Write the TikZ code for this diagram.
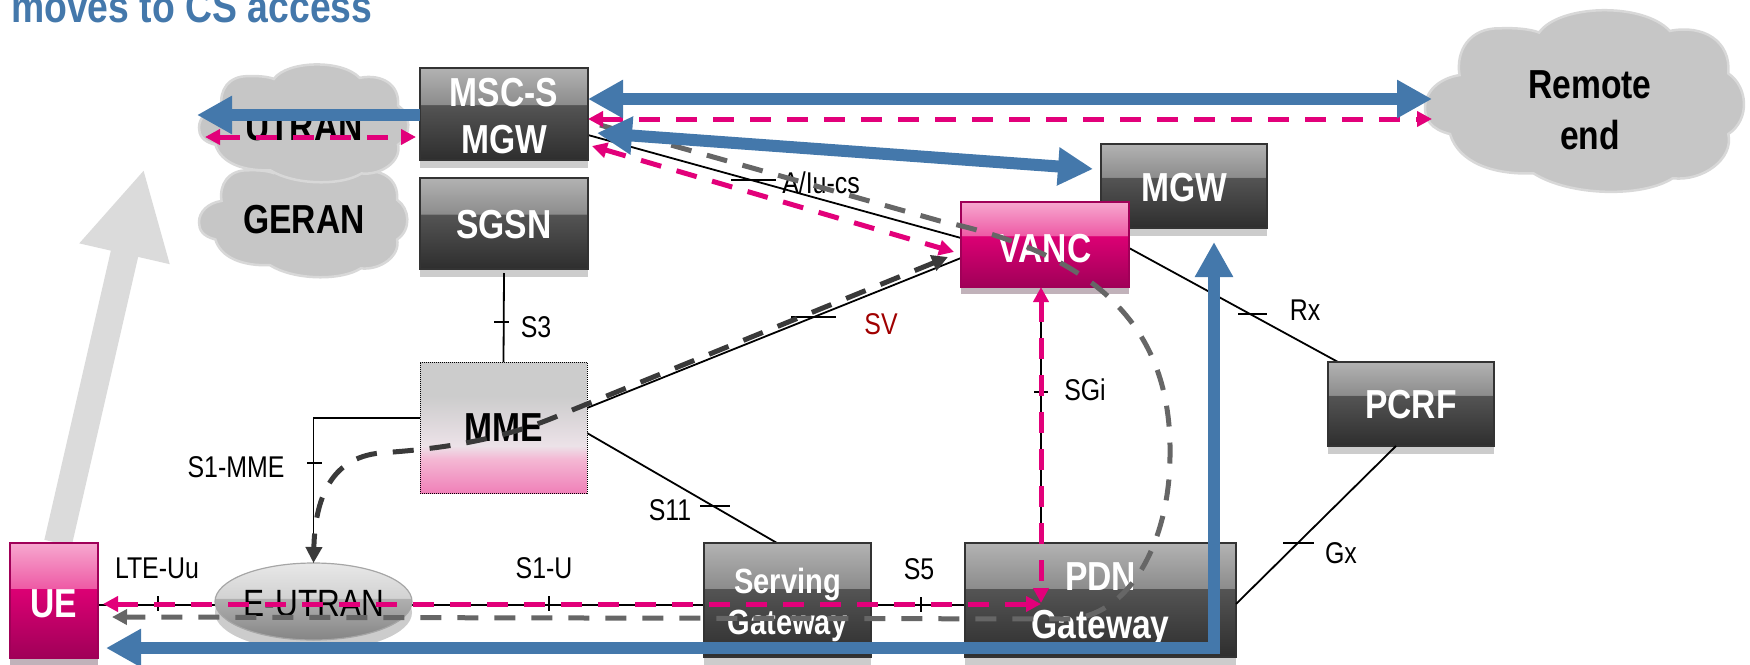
\documentclass[tikz,border=0pt]{standalone}
\usepackage{fontspec}
\setmainfont{Liberation Sans}[FakeStretch=0.83]
\usetikzlibrary{arrows.meta,calc,shapes.geometric,shadows,backgrounds}
\definecolor{tblue}{HTML}{4478AB}
\definecolor{tmag}{HTML}{E2007A}
\definecolor{tgrey}{HTML}{666666}
\definecolor{tdark}{HTML}{3A3A3A}
\definecolor{tred}{HTML}{A00000}
\definecolor{cloudc}{HTML}{C6C6C6}
\definecolor{cloude}{HTML}{D8D8D8}
\pgfdeclareverticalshading{darkshade}{100bp}{color(0bp)=(black!82);color(25bp)=(black!82);color(55bp)=(black!67);color(55.2bp)=(black!45);color(75bp)=(black!30);color(100bp)=(black!30)}
\definecolor{p1}{HTML}{A00058}
\definecolor{p2}{HTML}{DC0074}
\definecolor{p3}{HTML}{EE5AA5}
\definecolor{p4}{HTML}{F7A8CF}
\pgfdeclareverticalshading{pinkshade}{100bp}{color(0bp)=(p1);color(25bp)=(p1);color(55bp)=(p2);color(55.2bp)=(p3);color(75bp)=(p4);color(100bp)=(p4)}
\definecolor{m1}{HTML}{F080B8}
\definecolor{m2}{HTML}{F4B8D4}
\definecolor{m3}{HTML}{ECE2E8}
\definecolor{m4}{HTML}{CCCCCC}
\pgfdeclareverticalshading{mmeshade}{100bp}{color(0bp)=(m1);color(25bp)=(m1);color(38bp)=(m2);color(43bp)=(m3);color(62bp)=(m4);color(100bp)=(m4)}
\definecolor{e1}{HTML}{858585}
\definecolor{e2}{HTML}{B0B0B0}
\definecolor{e3}{HTML}{D2D2D2}
\definecolor{e4}{HTML}{E8E8E8}
\pgfdeclareverticalshading{ellshade}{100bp}{color(0bp)=(e1);color(25bp)=(e1);color(52bp)=(e2);color(52.2bp)=(e3);color(75bp)=(e4);color(100bp)=(e4)}
\newcommand{\lift}[1]{\rule{0pt}{#1pt}}
\newcommand{\cloudat}[5]{%
  \node[rectangle,inner sep=0pt,outer sep=0pt,minimum width=#4pt,minimum height=#5pt] (#1) at (#2,#3) {};
  \begin{scope}[shift={(#1.north west)},x=#4/575*1pt,y=-#5/565*1pt]
  \fill[cloudc,draw=cloude,line width=2.5pt]
    (0,305) .. controls (0,255) and (25,215) .. (62,205)
    .. controls (55,130) and (80,60) .. (135,62)
    .. controls (165,60) and (190,65) .. (205,75)
    .. controls (240,-10) and (390,-20) .. (440,70)
    .. controls (500,50) and (550,100) .. (545,200)
    .. controls (580,240) and (585,340) .. (545,385)
    .. controls (555,460) and (500,530) .. (445,520)
    .. controls (390,580) and (260,575) .. (195,505)
    .. controls (120,510) and (60,470) .. (45,385)
    .. controls (10,370) and (0,340) .. (0,305) -- cycle;
  \end{scope}}
\tikzset{
  boxbase/.style={rectangle,inner sep=0pt,outer sep=0pt,align=center,text=white,
    font=\fontsize{40.5}{47}\selectfont\bfseries},
  darkbox/.style={boxbase,shading=darkshade,draw=black!80,line width=1.2pt,
    general shadow={fill=black!20,shadow yshift=-7.5pt}},
  pinkbox/.style={boxbase,shading=pinkshade,draw=p1,line width=1.2pt,
    general shadow={fill=p1!30!black!30,shadow yshift=-7pt}},
  cloudtext/.style={inner sep=0pt,align=center,text=black,font=\fontsize{40.5}{51}\selectfont\bfseries},
  small/.style={inner sep=0pt,font=\fontsize{30}{31}\selectfont},
  wire/.style={draw=black,line width=1.8pt},
  tickm/.style={draw=black,line width=1.8pt},
  blueline/.style={draw=tblue,line width=12pt,{Triangle[length=35pt,width=36pt]}-{Triangle[length=35pt,width=36pt]}},
  blueone/.style={draw=tblue,line width=12pt,-{Triangle[length=35pt,width=36pt]}},
  magdash/.style={draw=tmag,line width=5pt,dash pattern=on 21pt off 16pt,
    {Triangle[length=15pt,width=15pt]}-{Triangle[length=15pt,width=15pt]}},
  greydash/.style={draw=tgrey,line width=5pt,dash pattern=on 21pt off 16pt,-{Triangle[length=15pt,width=15pt]}},
  darkdash/.style={draw=tdark,line width=5pt,dash pattern=on 21pt off 16pt,
    {Triangle[length=16pt,width=16pt]}-{Triangle[length=16pt,width=16pt]}},
}
\newcommand{\tickh}[3]{\draw[tickm] ($(#1,#3)$) -- ($(#2,#3)$);}
\newcommand{\tickv}[3]{\draw[tickm] ($(#1,#2)$) -- ($(#1,#3)$);}
\begin{document}
\begin{tikzpicture}[x=1pt,y=-1pt]
\clip (0,0) rectangle (1750,664);
\node[inner sep=0pt,anchor=base west,text=tblue,font=\fontsize{45}{47}\selectfont\bfseries] (title) at (11,22) {moves to CS access};
% clouds
\cloudat{geran}{303.5}{217.5}{209}{121}
\cloudat{utran}{304}{123}{210}{120}
\cloudat{remote}{1585}{100.5}{320}{185}
\node[cloudtext] (utrant) at (304,127) {UTRAN};
\node[cloudtext] (gerant) at (304,220) {GERAN};
\node[cloudtext] (remotet) at (1590,110) {Remote\\end};
% boxes
\node[darkbox,minimum width=168pt,minimum height=92pt] (msc) at (504,114) {\lift{32}MSC-S\\MGW};
\node[darkbox,minimum width=168pt,minimum height=91pt] (sgsn) at (504,223.5) {\lift{30}SGSN};
\node[boxbase,text=black,shading=mmeshade,draw=black,line width=1pt,densely dotted,minimum width=167pt,minimum height=131pt] (mme) at (503.5,427.5) {MME};
\node[darkbox,minimum width=166pt,minimum height=84pt] (mgw) at (1184,186) {\lift{32}MGW};
\node[pinkbox,minimum width=168pt,minimum height=85pt] (vanc) at (1045,244.5) {\lift{37}VANC};
\node[darkbox,minimum width=166pt,minimum height=84pt] (pcrf) at (1411,404) {\lift{30}PCRF};
\node[darkbox,minimum width=167pt,minimum height=114pt,font=\fontsize{35}{41}\selectfont\bfseries] (sgw) at (787.5,600) {\lift{36}Serving\\Gateway};
\node[darkbox,minimum width=271pt,minimum height=114pt,font=\fontsize{40.5}{48}\selectfont\bfseries] (pdn) at (1100.5,600) {\lift{38}PDN\\Gateway};
\node[pinkbox,minimum width=88pt,minimum height=115pt] (ue) at (54,600.5) {\lift{34}UE};
\node[ellipse,inner sep=0pt,outer sep=0pt,shading=ellshade,draw=black!35,line width=1.2pt,minimum width=197pt,minimum height=77pt,
  general shadow={fill=black!20,shadow yshift=-11pt}] (eutran) at (313.5,601.5) {};
\node[inner sep=0pt,font=\fontsize{38}{40}\selectfont] (eutrant) at (314,604) {E-UTRAN};
% labels
\node[small] (lmme) at (236,467) {S1-MME};
\node[small] (luu) at (157,568) {LTE-Uu};
\node[small] (ls1u) at (544,568) {S1-U};
\node[small] (ls11) at (670,510) {S11};
\node[small] (ls3) at (536,327) {S3};
\node[small] (ls5) at (919,569) {S5};
\node[small] (lsgi) at (1085,390) {SGi};
\node[small] (lgx) at (1341,553) {Gx};
\node[small] (lrx) at (1305,310) {Rx};
\node[small,text=tred] (lsv) at (881,324) {SV};
\node[small] (laiu) at (821,183) {A/Iu-cs};
% under the boxes
\begin{pgfonlayer}{background}
\draw[draw=black!14,line width=28pt,-{Triangle[length=87pt,width=86pt]}] ($(ue.north)+(4,0)$) -- ($(utran.south west)+(-55,-14)$);
\draw[wire] ($(msc.east)+(0,21)$) -- ($(vanc.west)+(0,-6.5)$);
\draw[wire] ($(vanc.east)+(0,3.5)$) -- ($(pcrf.north west)+(10,0)$);
\draw[wire] ($(mme.east)+(0,-19.5)$) -- ($(vanc.west)+(0,13.5)$);
\draw[wire] ($(mme.west)+(0,-9.5)$) -| (eutran.north);
\draw[wire] ($(mme.east)+(0,5.5)$) -- ($(sgw.north)+(-10.5,0)$);
\draw[wire] ($(ue.east)+(0,4.5)$) -- ($(pdn.west)+(0,5)$);
\draw[wire] ($(vanc.south)+(-4,0)$) -- ($(pdn.north)+(-59.5,0)$);
\tickv{158}{596}{611}
\tickv{549}{596}{611}
\tickv{921}{597}{612}
\tickh{307}{322}{463}
\tickh{494}{509}{322}
\tickh{700}{730}{506}
\tickh{731}{776}{180}
\tickh{791}{836}{317}
\tickh{1238}{1267}{314}
\tickh{1034}{1048}{392}
\tickh{1283}{1314}{543}
\end{pgfonlayer}
\draw[wire] ($(sgsn.south)+(0,4)$) -- (mme.north);
\draw[wire] ($(pcrf.south)+(-15,0)$) -- ($(pdn.east)+(0,4)$);
% arrows over everything
\draw[greydash] ($(msc.east)+(12,11)$) -- (940,221) .. controls (1100,255) and (1172,330) .. (1170,455)
   .. controls (1170,540) and (1130,619) .. (1065,619) -- ($(ue.east)+(14,16.5)$);
\draw[darkdash] ($(vanc.west)+(-13,12.5)$) -- (560,415) .. controls (490,445) and (420,450) .. (380,453)
   .. controls (330,458) and (315,500) .. (eutran.north);
\draw[magdash] ($(utran.west)+(6,14)$) -- ($(msc.west)+(-4,23)$);
\draw[magdash] ($(msc.east)+(0,5)$) -- ($(remote.west)+(7,18.5)$);
\draw[magdash] ($(msc.east)+(4,32)$) -- ($(vanc.west)+(-7,7.5)$);
\draw[magdash] ($(ue.east)+(5,3.5)$) -- ($(pdn.west)+(76,4)$);
\draw[magdash] ($(vanc.south)+(-4,0)$) -- ($(pdn.north)+(-59.5,60)$);
\draw[blueone] ($(msc.west)+(0,1)$) -- ($(utran.west)+(-2,-8)$);
\draw[blueline] ($(msc.east)+(0,-15)$) -- ($(remote.west)+(7,-1.5)$);
\draw[blueline] ($(msc.east)+(9,19)$) -- ($(mgw.west)+(-8,-17)$);
\coordinate (bluestart) at ($(ue.east)+(8,47.5)$);
\coordinate (blueend) at ($(mgw.south)+(30,14)$);
\draw[blueline,line join=miter] (bluestart) -| (blueend);
\end{tikzpicture}
\end{document}
